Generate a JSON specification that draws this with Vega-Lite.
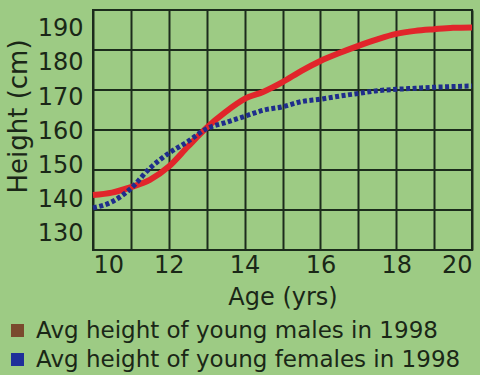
{
  "$schema": "https://vega.github.io/schema/vega-lite/v6.json",
  "width": 379,
  "height": 240,
  "autosize": "none",
  "padding": {"left": 93, "top": 10, "right": 8, "bottom": 125},
  "background": "#9dcb84",
  "config": {
    "font": "DejaVu Sans",
    "view": {"stroke": "#1c2b1c", "strokeWidth": 2},
    "axis": {
      "labelFont": "DejaVu Sans",
      "titleFont": "DejaVu Sans",
      "labelFontSize": 24,
      "titleFontSize": 24,
      "titleFontWeight": "normal",
      "labelColor": "#1a2717",
      "titleColor": "#1a2717",
      "domain": false,
      "ticks": false
    }
  },
  "datasets": {
    "grid": [{"h": 136.4}, {"h": 148.1}, {"h": 159.8}, {"h": 171.5}, {"h": 183.2}],
    "curves": [
      {"age": 10, "height": 140.8, "series": "Avg height of young males in 1998"},
      {"age": 10.5, "height": 141.5, "series": "Avg height of young males in 1998"},
      {"age": 11, "height": 143.1, "series": "Avg height of young males in 1998"},
      {"age": 11.5, "height": 145.2, "series": "Avg height of young males in 1998"},
      {"age": 12, "height": 149.1, "series": "Avg height of young males in 1998"},
      {"age": 12.5, "height": 154.9, "series": "Avg height of young males in 1998"},
      {"age": 13, "height": 160.5, "series": "Avg height of young males in 1998"},
      {"age": 13.5, "height": 165.1, "series": "Avg height of young males in 1998"},
      {"age": 14, "height": 168.9, "series": "Avg height of young males in 1998"},
      {"age": 14.5, "height": 171.0, "series": "Avg height of young males in 1998"},
      {"age": 15, "height": 173.8, "series": "Avg height of young males in 1998"},
      {"age": 15.5, "height": 177.1, "series": "Avg height of young males in 1998"},
      {"age": 16, "height": 180.0, "series": "Avg height of young males in 1998"},
      {"age": 16.5, "height": 182.3, "series": "Avg height of young males in 1998"},
      {"age": 17, "height": 184.4, "series": "Avg height of young males in 1998"},
      {"age": 17.5, "height": 186.3, "series": "Avg height of young males in 1998"},
      {"age": 18, "height": 187.9, "series": "Avg height of young males in 1998"},
      {"age": 18.5, "height": 188.8, "series": "Avg height of young males in 1998"},
      {"age": 19, "height": 189.3, "series": "Avg height of young males in 1998"},
      {"age": 19.5, "height": 189.7, "series": "Avg height of young males in 1998"},
      {"age": 20, "height": 189.8, "series": "Avg height of young males in 1998"},
      {"age": 10, "height": 137.0, "series": "Avg height of young females in 1998"},
      {"age": 10.5, "height": 138.8, "series": "Avg height of young females in 1998"},
      {"age": 11, "height": 142.7, "series": "Avg height of young females in 1998"},
      {"age": 11.5, "height": 148.6, "series": "Avg height of young females in 1998"},
      {"age": 12, "height": 153.0, "series": "Avg height of young females in 1998"},
      {"age": 12.5, "height": 156.4, "series": "Avg height of young females in 1998"},
      {"age": 13, "height": 160.2, "series": "Avg height of young females in 1998"},
      {"age": 13.5, "height": 162.0, "series": "Avg height of young females in 1998"},
      {"age": 14, "height": 163.8, "series": "Avg height of young females in 1998"},
      {"age": 14.5, "height": 165.6, "series": "Avg height of young females in 1998"},
      {"age": 15, "height": 166.6, "series": "Avg height of young females in 1998"},
      {"age": 15.5, "height": 168.1, "series": "Avg height of young females in 1998"},
      {"age": 16, "height": 168.8, "series": "Avg height of young females in 1998"},
      {"age": 16.5, "height": 169.7, "series": "Avg height of young females in 1998"},
      {"age": 17, "height": 170.5, "series": "Avg height of young females in 1998"},
      {"age": 17.5, "height": 171.3, "series": "Avg height of young females in 1998"},
      {"age": 18, "height": 171.7, "series": "Avg height of young females in 1998"},
      {"age": 18.5, "height": 172.0, "series": "Avg height of young females in 1998"},
      {"age": 19, "height": 172.3, "series": "Avg height of young females in 1998"},
      {"age": 19.5, "height": 172.5, "series": "Avg height of young females in 1998"},
      {"age": 20, "height": 172.7, "series": "Avg height of young females in 1998"}
    ]
  },
  "layer": [
    {
      "data": {"name": "grid"},
      "mark": {"type": "rule", "color": "#1c2b1c", "strokeWidth": 2},
      "encoding": {
        "y": {"field": "h", "type": "quantitative", "scale": {"domain": [124.7, 194.9], "nice": false, "zero": false},
              "axis": {"title": "Height (cm)", "values": [130, 140, 150, 160, 170, 180, 190], "grid": false, "labelPadding": 10, "labelOffset": 2, "titlePadding": 6, "titleFontSize": 26, "titleY": 106}}
      }
    },
    {
      "data": {"name": "curves"},
      "transform": [{"filter": "datum.series == 'Avg height of young males in 1998'"}],
      "mark": {"type": "line", "color": "#e1252b", "strokeWidth": 6, "interpolate": "monotone"},
      "encoding": {
        "x": {"field": "age", "type": "quantitative", "scale": {"domain": [10, 20], "nice": false, "zero": false},
              "axis": {"title": "Age (yrs)", "values": [10, 11, 12, 13, 14, 15, 16, 17, 18, 19, 20], "labelExpr": "datum.value % 2 == 0 ? datum.label : ''", "labelFlush": true, "labelPadding": 3, "titlePadding": 8, "grid": true, "gridColor": "#1c2b1c", "gridWidth": 2, "gridOpacity": 1}},
        "y": {"field": "height", "type": "quantitative",
              "axis": {"title": "Height (cm)", "values": [130, 140, 150, 160, 170, 180, 190], "grid": false, "labelPadding": 10, "labelOffset": 2, "titlePadding": 6, "titleFontSize": 26, "titleY": 106}}
      }
    },
    {
      "data": {"name": "curves"},
      "transform": [{"filter": "datum.series == 'Avg height of young females in 1998'"}],
      "mark": {"type": "line", "color": "#1f2d8c", "strokeWidth": 5, "strokeDash": [4, 2.5], "interpolate": "monotone"},
      "encoding": {
        "x": {"field": "age", "type": "quantitative",
              "axis": {"title": "Age (yrs)", "values": [10, 11, 12, 13, 14, 15, 16, 17, 18, 19, 20], "labelExpr": "datum.value % 2 == 0 ? datum.label : ''", "labelFlush": true, "labelPadding": 3, "titlePadding": 8, "grid": true, "gridColor": "#1c2b1c", "gridWidth": 2, "gridOpacity": 1}},
        "y": {"field": "height", "type": "quantitative",
              "axis": {"title": "Height (cm)", "values": [130, 140, 150, 160, 170, 180, 190], "grid": false, "labelPadding": 10, "labelOffset": 2, "titlePadding": 6, "titleFontSize": 26, "titleY": 106}}
      }
    },
    {
      "data": {"name": "curves"},
      "mark": {"type": "square", "size": 0, "filled": true},
      "encoding": {
        "x": {"field": "age", "type": "quantitative",
              "axis": {"title": "Age (yrs)", "values": [10, 11, 12, 13, 14, 15, 16, 17, 18, 19, 20], "labelExpr": "datum.value % 2 == 0 ? datum.label : ''", "labelFlush": true, "labelPadding": 3, "titlePadding": 8, "grid": true, "gridColor": "#1c2b1c", "gridWidth": 2, "gridOpacity": 1}},
        "y": {"field": "height", "type": "quantitative",
              "axis": {"title": "Height (cm)", "values": [130, 140, 150, 160, 170, 180, 190], "grid": false, "labelPadding": 10, "labelOffset": 2, "titlePadding": 6, "titleFontSize": 26, "titleY": 106}},
        "fill": {"field": "series", "type": "nominal",
                 "scale": {"domain": ["Avg height of young males in 1998", "Avg height of young females in 1998"], "range": ["#7a4a2e", "#1f2f9a"]},
                 "legend": {"orient": "none", "legendX": -87, "legendY": 309, "title": null, "symbolType": "square", "symbolSize": 169, "symbolStrokeWidth": 0, "symbolOpacity": 1, "labelFontSize": 23, "labelFont": "DejaVu Sans", "labelColor": "#1a2717", "labelOffset": 7, "labelLimit": 500, "rowPadding": 5, "padding": 0}}
      }
    }
  ]
}
